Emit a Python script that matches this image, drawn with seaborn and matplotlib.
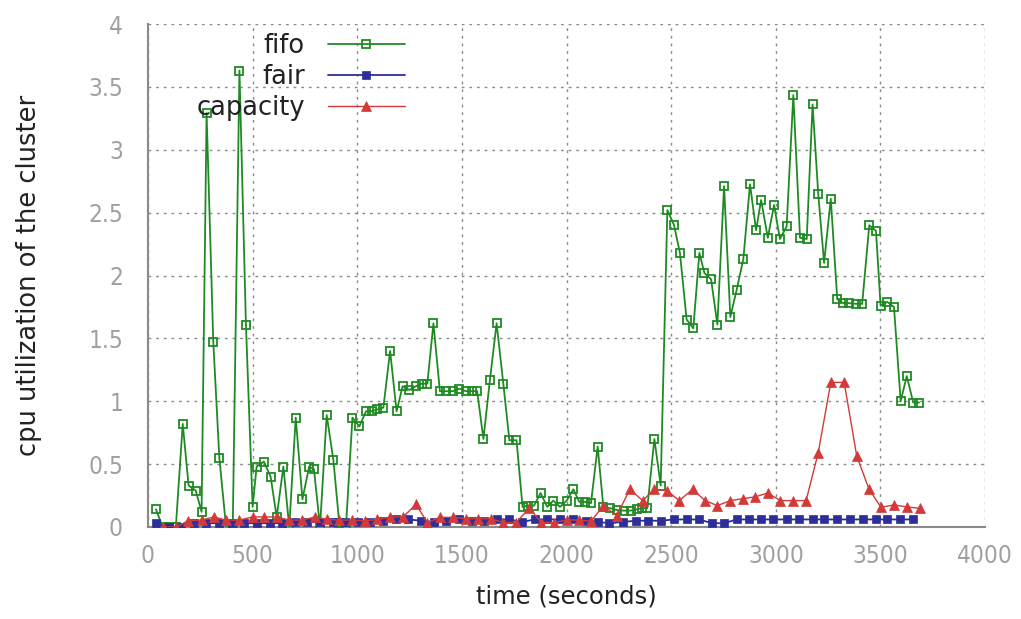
import matplotlib
matplotlib.use("Agg")
import matplotlib.pyplot as plt
import seaborn as sns
import pandas as pd

# ---------------- data ----------------
fifo_time = [38, 70, 100, 133, 166, 194, 228, 256, 280, 312, 341, 373, 405, 437, 468, 500,
             519, 554, 586, 615, 647, 675, 706, 738, 770, 793, 822, 854, 886, 914, 946, 977,
             1010, 1042, 1069, 1096, 1125, 1157, 1188, 1217, 1249, 1281, 1308, 1335, 1364,
             1395, 1424, 1456, 1488, 1519, 1546, 1573, 1603, 1634, 1666, 1698, 1727, 1761,
             1790, 1818, 1845, 1876, 1908, 1937, 1969, 2001, 2033, 2061, 2087, 2117, 2149,
             2176, 2208, 2240, 2275, 2306, 2335, 2359, 2386, 2420, 2450, 2482, 2514, 2542,
             2574, 2606, 2635, 2659, 2691, 2721, 2753, 2783, 2813, 2845, 2877, 2906, 2930,
             2962, 2992, 3020, 3052, 3084, 3116, 3148, 3176, 3203, 3231, 3263, 3294, 3323,
             3351, 3384, 3413, 3447, 3479, 3501, 3533, 3565, 3597, 3626, 3657, 3685]
fifo_cpu = [0.14, 0.0, 0.0, 0.0, 0.82, 0.33, 0.29, 0.12, 3.29, 1.47, 0.55, 0.0, 0.0, 3.63, 1.61, 0.16,
            0.48, 0.52, 0.40, 0.08, 0.48, 0.0, 0.87, 0.22, 0.48, 0.46, 0.0, 0.89, 0.53, 0.03, 0.0, 0.87,
            0.80, 0.92, 0.92, 0.935, 0.95, 1.40, 0.92, 1.12, 1.09, 1.12, 1.14, 1.14, 1.62,
            1.08, 1.08, 1.08, 1.10, 1.08, 1.08, 1.08, 0.70, 1.17, 1.62, 1.14, 0.69, 0.69,
            0.16, 0.17, 0.17, 0.27, 0.16, 0.21, 0.16, 0.21, 0.30, 0.20, 0.20, 0.19, 0.64,
            0.16, 0.15, 0.135, 0.13, 0.13, 0.14, 0.15, 0.15, 0.70, 0.33, 2.52, 2.40, 2.18,
            1.65, 1.58, 2.18, 2.02, 1.97, 1.61, 2.71, 1.67, 1.885, 2.13, 2.725, 2.36, 2.60,
            2.30, 2.56, 2.29, 2.39, 3.435, 2.30, 2.29, 3.36, 2.65, 2.10, 2.61, 1.81, 1.78,
            1.78, 1.775, 1.775, 2.40, 2.355, 1.76, 1.79, 1.75, 1.00, 1.20, 0.99, 0.99]

fair_time = [38, 98, 158, 219, 279, 340, 400, 460, 521, 581, 641, 701, 762, 822, 882, 943,
             1003, 1063, 1124, 1184, 1244, 1305, 1365, 1425, 1486, 1546, 1606, 1667, 1727,
             1787, 1848, 1908, 1969, 2033, 2093, 2149, 2205, 2268, 2332, 2391, 2450, 2514,
             2574, 2635, 2694, 2753, 2813, 2874, 2930, 2988, 3052, 3112, 3176, 3231, 3294,
             3355, 3416, 3479, 3533, 3594, 3657]
fair_cpu = [0.03, 0.0, 0.0, 0.03, 0.03, 0.03, 0.03, 0.03, 0.03, 0.03, 0.03, 0.04, 0.04, 0.04, 0.04, 0.04,
            0.04, 0.04, 0.05, 0.06, 0.06, 0.05, 0.04, 0.05, 0.06, 0.05, 0.05, 0.06, 0.06,
            0.04, 0.06, 0.06, 0.06, 0.06, 0.05, 0.04, 0.03, 0.04, 0.05, 0.05, 0.05, 0.06,
            0.06, 0.06, 0.03, 0.03, 0.06, 0.06, 0.06, 0.06, 0.06, 0.06, 0.06, 0.06, 0.06,
            0.06, 0.06, 0.06, 0.06, 0.06, 0.06]

capacity_time = [73, 133, 193, 256, 315, 373, 437, 500, 554, 615, 675, 738, 800, 856, 914, 977,
                 1037, 1096, 1157, 1220, 1281, 1335, 1395, 1459, 1519, 1578, 1638, 1698, 1759,
                 1822, 1880, 1940, 2001, 2061, 2117, 2176, 2240, 2303, 2364, 2420, 2479, 2539,
                 2603, 2662, 2721, 2783, 2842, 2902, 2962, 3022, 3084, 3145, 3203, 3263, 3327,
                 3387, 3446, 3503, 3565, 3626, 3689]
capacity_cpu = [0.0, 0.0, 0.05, 0.055, 0.08, 0.055, 0.055, 0.08, 0.08, 0.08, 0.055, 0.055, 0.08, 0.06, 0.055, 0.055,
                0.05, 0.06, 0.077, 0.082, 0.18, 0.035, 0.077, 0.077, 0.066, 0.066, 0.066, 0.035, 0.035,
                0.15, 0.035, 0.035, 0.056, 0.056, 0.045, 0.17, 0.09, 0.30, 0.21, 0.30, 0.29, 0.21,
                0.30, 0.21, 0.17, 0.21, 0.225, 0.24, 0.27, 0.21, 0.21, 0.21, 0.59, 1.15, 1.15,
                0.565, 0.30, 0.157, 0.175, 0.16, 0.148]

x_ticks = [0, 500, 1000, 1500, 2000, 2500, 3000, 3500, 4000]
y_ticks = [0, 0.5, 1, 1.5, 2, 2.5, 3, 3.5, 4]
y_tick_labels = ["0", "0.5", "1", "1.5", "2", "2.5", "3", "3.5", "4"]

# ---------------- style ----------------
sns.set_style("white")
plt.rcParams["font.family"] = ["DejaVu Sans"]

fig = plt.figure(figsize=(10.21, 6.19), dpi=100)
ax = fig.add_axes([148 / 1021, 92 / 619, (985 - 148) / 1021, (527 - 24) / 619])

fifo_df = pd.DataFrame({"t": fifo_time, "cpu": fifo_cpu})
fair_df = pd.DataFrame({"t": fair_time, "cpu": fair_cpu})
cap_df = pd.DataFrame({"t": capacity_time, "cpu": capacity_cpu})

green = "#1f8a24"
blue = "#2e2e9a"
red = "#d23a3a"

sns.lineplot(data=fifo_df, x="t", y="cpu", ax=ax, color=green, lw=1.3,
             marker="s", markersize=5.5, markerfacecolor="none",
             markeredgecolor=green, markeredgewidth=1.3, label="fifo", zorder=3)
sns.lineplot(data=fair_df, x="t", y="cpu", ax=ax, color=blue, lw=1.3,
             marker="s", markersize=5.5, markerfacecolor=blue,
             markeredgecolor=blue, markeredgewidth=0.5, label="fair", zorder=4)
sns.lineplot(data=cap_df, x="t", y="cpu", ax=ax, color=red, lw=1.0,
             marker="^", markersize=7, markerfacecolor=red,
             markeredgecolor=red, markeredgewidth=0.5, label="capacity", zorder=5)

ax.set_xlim(0, 4000)
ax.set_ylim(0, 4)
ax.set_xticks(x_ticks)
ax.set_xticklabels([str(v) for v in x_ticks])
ax.set_yticks(y_ticks)
ax.set_yticklabels(y_tick_labels)

ax.grid(True, color="#8a8a8a", linestyle=(0, (2, 3.5)), linewidth=1.0)
for side in ["top", "right"]:
    ax.spines[side].set_visible(False)
for side in ["left", "bottom"]:
    ax.spines[side].set_color("#8a8a8a")
    ax.spines[side].set_linewidth(1.5)

ax.tick_params(axis="both", direction="in", length=5, width=1, color="#8a8a8a",
               labelcolor="#a0a0a0", labelsize=17.5)
ax.tick_params(axis="y", pad=18)
ax.tick_params(axis="x", pad=12)
for lbl in ax.get_xticklabels() + ax.get_yticklabels():
    lbl.set_fontstretch("condensed")

ax.set_xlabel("time (seconds)", fontsize=17.5, color="#222222", labelpad=12)
ax.set_ylabel("cpu utilization of the cluster", fontsize=18.5, color="#222222", labelpad=33)

leg = ax.legend(loc="upper right", bbox_to_anchor=((405 - 148) / 837, (527 - 33) / 503),
                frameon=False, markerfirst=False, fontsize=18.5, handlelength=3.0,
                handletextpad=0.9, labelspacing=0.2, borderpad=0, borderaxespad=0)
for t in leg.get_texts():
    t.set_color("#222222")

fig.savefig("out.png", dpi=100)
